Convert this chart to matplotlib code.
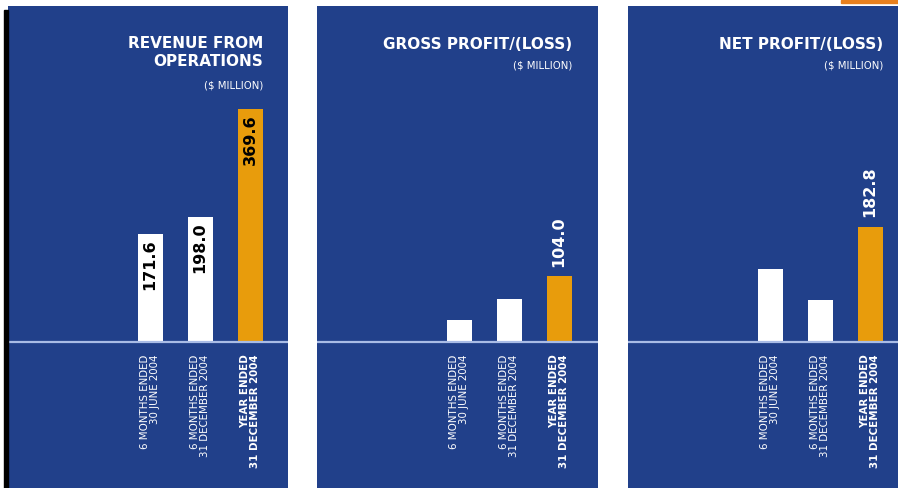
import numpy as np
import matplotlib
matplotlib.use('Agg')
import matplotlib.pyplot as plt
from matplotlib.patches import Rectangle

# --- данные --- #
categories = ['6 MONTHS ENDED\n30 JUNE 2004',
              '6 MONTHS ENDED\n31 DECEMBER 2004',
              'YEAR ENDED\n31 DECEMBER 2004']
titles = ['REVENUE FROM\nOPERATIONS', 'GROSS PROFIT/(LOSS)', 'NET PROFIT/(LOSS)']
subtitle = '($ MILLION)'
revenue = [171.6, 198.0, 369.6]
gross = [35.0, 69.0, 104.0]
net = [116.0, 66.8, 182.8]
series = [revenue, gross, net]
# какие столбики подписаны в каждой панели
labelled = [[True, True, True], [False, False, True], [False, False, True]]

BLUE = '#21408a'
ORANGE = '#e89c0c'
LINE = '#a9bce6'

W, H = 898, 488
fig = plt.figure(figsize=(W / 100, H / 100), dpi=100)
fig.patch.set_facecolor('white')

# панели в пикселях: левый край, ширина
panels = [(8, 280), (317, 281), (628, 270)]
top_px = 6
base_px = 146          # базовая линия от низа панели
scale = 0.63           # пикселей на единицу
x0 = 142               # центр первого столбика от левого края панели
step = 50

fig.patches.append(Rectangle((4 / W, 0), 4 / W, (H - 10) / H, transform=fig.transFigure,
                             color='black', zorder=5))
fig.patches.append(Rectangle((841 / W, (H - 3) / H), 57 / W, 3 / H, transform=fig.transFigure,
                             color='#e8801e', zorder=5))

for i, (left, width) in enumerate(panels):
    h_px = H - top_px
    ax = fig.add_axes([left / W, 0, width / W, h_px / H])
    ax.set_facecolor(BLUE)
    for s in ax.spines.values():
        s.set_visible(False)
    ax.set_xticks([])
    ax.set_yticks([])
    ax.set_xlim(-x0 / step, (width - x0) / step)
    ax.set_ylim(-base_px / scale, (h_px - base_px) / scale)

    vals = series[i]
    x = np.arange(len(vals))
    cols = ['white', 'white', ORANGE]
    ax.bar(x, vals, width=0.5, color=cols, zorder=2)
    ax.axhline(0, color=LINE, lw=1.6, zorder=3)

    for j, v in enumerate(vals):
        if not labelled[i][j]:
            continue
        if i == 0:
            ax.text(x[j], v - 8, '%.1f' % v, rotation=90, ha='center', va='top',
                    fontsize=11.5, fontweight='bold', color='black', zorder=4)
        else:
            ax.text(x[j], v + 15, '%.1f' % v, rotation=90, ha='center', va='bottom',
                    fontsize=11.5, fontweight='bold', color='white', zorder=4)

    for j, c in enumerate(categories):
        ax.text(x[j], -20, c, rotation=90, ha='center', va='top', multialignment='right',
                fontsize=7.4, color='white', linespacing=0.95,
                fontweight='bold' if j == 2 else 'normal')

    # заголовки
    right_x = x[2] + 0.26
    if i == 0:
        ax.text(right_x, (h_px - 30) / scale - base_px / scale, titles[i], ha='right', va='top',
                fontsize=11, fontweight='bold', color='white', linespacing=1.25)
        ax.text(right_x, (h_px - 75) / scale - base_px / scale, subtitle, ha='right', va='top',
                fontsize=7.3, color='white')
    else:
        ax.text(right_x, (h_px - 31) / scale - base_px / scale, titles[i], ha='right', va='top',
                fontsize=11, fontweight='bold', color='white')
        ax.text(right_x, (h_px - 54) / scale - base_px / scale, subtitle, ha='right', va='top',
                fontsize=7.3, color='white')

fig.savefig('out.png', dpi=100, facecolor=fig.get_facecolor())
